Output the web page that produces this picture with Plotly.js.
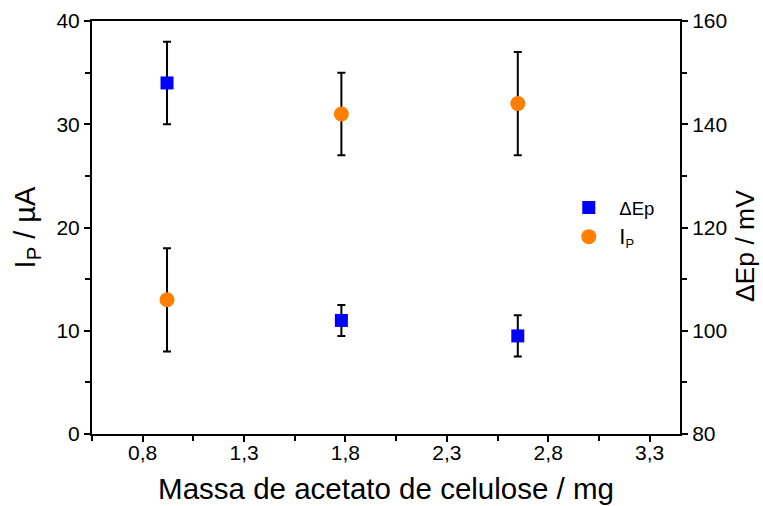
<!DOCTYPE html>
<html>
<head>
<meta charset="utf-8">
<script src="https://cdn.plot.ly/plotly-3.0.1.min.js"></script>
<style>
  html, body { margin: 0; padding: 0; background: #fff; }
  #chart { width: 763px; height: 506px; }
</style>
</head>
<body>
<div id="chart"></div>
<script>
// Mass of cellulose acetate (mg)
const massa = [0.92, 1.78, 2.65];

// Peak current I_P (µA) with its error
const ip = [13, 31, 32];
const ipErr = [5, 4, 5];

// Peak separation ΔEp (mV) with its error
const dEp = [148, 102, 99];
const dEpErr = [8, 3, 4];

const FONT = 'Liberation Sans, Arial, Helvetica, sans-serif';

const errStyle = { type: 'data', visible: true, color: '#000', thickness: 2, width: 4 };

const traces = [
  {
    x: massa, y: dEp, yaxis: 'y2', name: '\u0394Ep',
    type: 'scatter', mode: 'markers',
    marker: { symbol: 'square', size: 13, color: '#0000ff' },
    error_y: Object.assign({ array: dEpErr }, errStyle),
    legendgroup: 'dEp'
  },
  {
    x: massa, y: ip, yaxis: 'y', name: '<span style="font-size:22px">I</span><sub>P</sub>',
    type: 'scatter', mode: 'markers',
    marker: { symbol: 'circle', size: 15, color: '#ff8000' },
    error_y: Object.assign({ array: ipErr }, errStyle),
    legendgroup: 'ip'
  }
];

const axisCommon = {
  showline: true, linecolor: '#000', linewidth: 2,
  ticks: 'outside', ticklen: 6, tickwidth: 2, tickcolor: '#000',
  showgrid: false, zeroline: false,
  tickfont: { family: FONT, size: 21, color: '#000' }
};

const minorTicks = { ticks: 'outside', ticklen: 5, tickwidth: 2, tickcolor: '#000' };

const layout = {
  width: 763, height: 506,
  margin: { l: 92, r: 83, t: 21, b: 72 },
  paper_bgcolor: '#fff', plot_bgcolor: '#fff',
  separators: ',.',
  font: { family: FONT, color: '#000' },
  showlegend: true,
  legend: {
    x: 0.793, y: 0.593, xanchor: 'left', yanchor: 'top',
    bgcolor: 'rgba(0,0,0,0)',
    itemwidth: 51,
    traceorder: 'grouped', tracegroupgap: 2,
    font: { family: FONT, size: 18.5, color: '#000' }
  },
  xaxis: Object.assign({}, axisCommon, {
    range: [0.55, 3.45],
    tick0: 0.8, dtick: 0.5, tickformat: '.1f',
    ticklabelstandoff: -7,
    mirror: true,
    minor: Object.assign({ dtick: 0.25, tick0: 0.8 }, minorTicks),
    title: { text: 'Massa de acetato de celulose / mg', font: { family: FONT, size: 29.5, color: '#000' }, standoff: 15 }
  }),
  yaxis: Object.assign({}, axisCommon, {
    range: [0, 40], dtick: 10, tick0: 0,
    minor: Object.assign({ dtick: 5 }, minorTicks),
    title: { text: 'I<sub>P</sub> / \u00b5A', font: { family: FONT, size: 29, color: '#000' }, standoff: 12 }
  }),
  yaxis2: Object.assign({}, axisCommon, {
    overlaying: 'y', side: 'right',
    range: [80, 160], dtick: 20, tick0: 80,
    minor: Object.assign({ dtick: 10 }, minorTicks)
  }),
  annotations: [
    {
      // right-hand axis title
      text: '\u0394Ep / mV', textangle: -90,
      xref: 'paper', yref: 'paper', x: 1, y: 0.455,
      xanchor: 'center', yanchor: 'middle', xshift: 65, borderpad: 0,
      showarrow: false,
      font: { family: FONT, size: 26.5, color: '#000' }
    }
  ]
};

Plotly.newPlot('chart', traces, layout, { displayModeBar: false, staticPlot: true });
</script>
</body>
</html>
